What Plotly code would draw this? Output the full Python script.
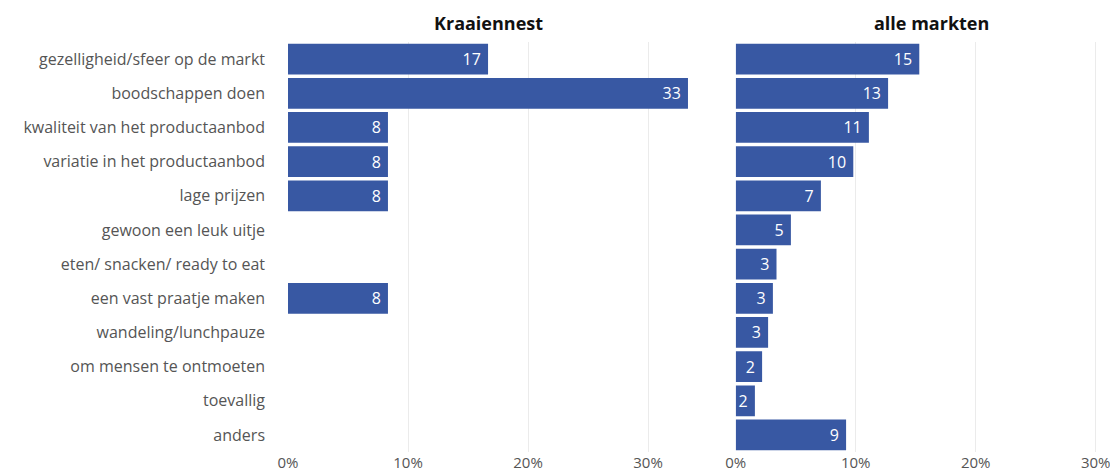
import plotly.graph_objects as go

categories = ['gezelligheid/sfeer op de markt', 'boodschappen doen',
              'kwaliteit van het productaanbod', 'variatie in het productaanbod',
              'lage prijzen', 'gewoon een leuk uitje', 'eten/ snacken/ ready to eat',
              'een vast praatje maken', 'wandeling/lunchpauze',
              'om mensen te ontmoeten', 'toevallig', 'anders']

# percentages
kraaiennest = [16.67, 33.33, 8.33, 8.33, 8.33, None, None, 8.33, None, None, None, None]
alle_markten = [15.3, 12.7, 11.1, 9.8, 7.1, 4.6, 3.4, 3.1, 2.7, 2.2, 1.6, 9.2]

panel_titles = ['Kraaiennest', 'alle markten']
tick_vals = [0, 10, 20, 30]
tick_text = ['0%', '10%', '20%', '30%']

bar_color = '#3858a3'
font_family = 'Open Sans, Lato, sans-serif'


def labels(vals):
    # trailing no-break space keeps the number away from the bar end
    return ['' if v is None else str(round(v)) + '\u00a0' for v in vals]


fig = go.Figure()
for i, vals in enumerate([kraaiennest, alle_markten]):
    fig.add_trace(go.Bar(
        y=categories, x=vals, orientation='h',
        xaxis='x' if i == 0 else 'x2', yaxis='y' if i == 0 else 'y2',
        marker_color=bar_color, marker_line_width=0, width=0.9,
        text=labels(vals), textposition='inside', insidetextanchor='end',
        textfont=dict(color='white', size=16, family=font_family),
        showlegend=False, hoverinfo='skip'
    ))

# panel titles
for x, t in [(0.2410, panel_titles[0]), (0.7756, panel_titles[1])]:
    fig.add_annotation(text='<b>%s</b>' % t, x=x, y=1, xref='paper', yref='paper',
                       xanchor='center', yanchor='bottom', yshift=5, showarrow=False,
                       font=dict(size=18, color='#111111', family=font_family))

axis_common = dict(tickvals=tick_vals, ticktext=tick_text, showgrid=True,
                   gridcolor='#ebebeb', gridwidth=1.2, zeroline=False,
                   showline=False, ticks='', fixedrange=True, automargin=False,
                   tickfont=dict(size=15, color='#555555', family=font_family))

# page body has an 8px margin, so the figure is 8px smaller and shifted
fig.update_layout(
    width=1110, height=464,
    margin=dict(l=280, r=0, t=34, b=20, autoexpand=False),
    plot_bgcolor='white', paper_bgcolor='white',
    bargap=0.1,
    uniformtext=dict(minsize=16, mode='show'),
    xaxis=dict(domain=[0, 0.4819], range=[0, 33.33], **axis_common),
    xaxis2=dict(domain=[0.5394, 1.0], range=[0, 31.86], **axis_common),
    yaxis=dict(autorange='reversed', ticks='', showgrid=False, ticklabelstandoff=22,
               automargin=False,
               tickfont=dict(size=16, color='#555555', family=font_family)),
    yaxis2=dict(anchor='x2', matches='y', showticklabels=False, showgrid=False,
                autorange='reversed', automargin=False),
)

fig.write_html('out.html')
